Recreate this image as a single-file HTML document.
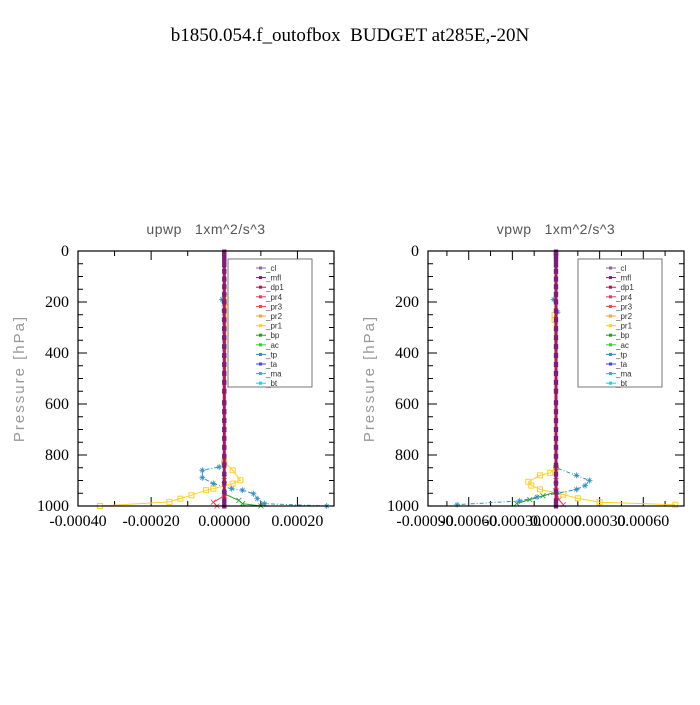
<!DOCTYPE html>
<html><head><meta charset="utf-8"><style>
body{margin:0;background:#fff;}
svg text{font-family:"Liberation Serif",serif;white-space:pre;}
.sans{font-family:"Liberation Sans","DejaVu Sans",sans-serif;}
</style></head><body>
<svg id="chart" width="700" height="700" xmlns="http://www.w3.org/2000/svg" xml:space="preserve">
<rect width="700" height="700" fill="#fff"/>
<text x="350" y="41" font-size="19" text-anchor="middle">b1850.054.f_outofbox  BUDGET at285E,-20N</text>
</svg>
<script>
// ---- data ----
const seriesNames = ["_cl","_mfl","_dp1","_pr4","_pr3","_pr2","_pr1","_bp","_ac","_tp","_ta","_ma","_bt"];
const seriesColors = ["#9060b8","#7a1e7a","#c01048","#e04060","#ff4040","#ffa030","#ffd020","#20a020","#30d030","#3090c0","#4040ff","#40a8e0","#00e0e0"];
const zeroLevels = [4,10,20,35,55,80,110,140,170,200,235,270,305,340,375,410,445,480,515,550,595,630,665,700,735,770,805,840,875,910,945,980,1000];
const leftTitle = "upwp   1xm^2/s^3";
const rightTitle = "vpwp   1xm^2/s^3";
const leftTicks = [-0.0004,-0.0002,0,0.0002];
const leftTickLabels = ["-0.00040","-0.00020","0.00000","0.00020"];
const rightTicks = [-0.0009,-0.0006,-0.0003,0,0.0003,0.0006];
const rightTickLabels = ["-0.00090","-0.00060","-0.00030","0.00000","0.00030","0.00060"];
const yTicks = [0,200,400,600,800,1000];
// left panel series
const L_pr1_p = [180,200,827,860,899,912,932,938,958,971,984,1000];
const L_pr1_v = [0.000004,0.000006,0,0.000023,0.000044,0.000023,-0.00003,-0.00005,-0.00009,-0.00012,-0.00015,-0.00034];
const L_tp_p = [190,830,847,860,889,912,932,938,952,971,991,1000];
const L_tp_v = [-0.000006,0,-0.000014,-0.00006,-0.00006,-0.00003,0.00002,0.00005,0.00008,0.00009,0.00011,0.00028];
const L_bp_p = [900,952,978,991,1000];
const L_bp_v = [0,0,0.00004,0.00005,0.0001];
const L_pr4_p = [960,985,1000];
const L_pr4_v = [0,-0.00003,-0.00002];
// right panel series
const R_pr1_p = [250,270,850,870,880,905,920,935,955,970,985,995];
const R_pr1_v = [-0.00001,-0.00001,0,-0.00004,-0.00011,-0.00019,-0.00017,-0.00011,0.00005,0.00015,0.0003,0.00082];
const R_tp_p = [190,240,850,880,900,920,935,950,965,980,995];
const R_tp_v = [-0.000015,0.00001,0,0.00014,0.00023,0.0002,0.00014,0.00001,-0.00013,-0.00025,-0.00068];
const R_bp_p = [900,945,960,975,990];
const R_bp_v = [0,0,-0.00009,-0.00018,-0.00027];
const R_pr4_p = [940,975,995];
const R_pr4_v = [0,0.00002,0.00005];

const NS="http://www.w3.org/2000/svg";
const svg=document.getElementById('chart');
function mk(tag,attrs,parent){const e=document.createElementNS(NS,tag);for(const k in attrs)e.setAttribute(k,attrs[k]);(parent||svg).appendChild(e);return e;}

function marker(g,x,y,c,kind){
  let m;
  if(kind==="sq"){m=mk('rect',{x:x-2.5,y:y-2.5,width:5,height:5,fill:'none',stroke:c,'stroke-width':1},g);}
  else if(kind==="star"){m=mk('path',{d:`M${x-3} ${y}H${x+3}M${x} ${y-3}V${y+3}M${x-2} ${y-2}L${x+2} ${y+2}M${x-2} ${y+2}L${x+2} ${y-2}`,stroke:c,'stroke-width':0.8},g);}
  else if(kind==="x"){m=mk('path',{d:`M${x-2.5} ${y-2.5}L${x+2.5} ${y+2.5}M${x-2.5} ${y+2.5}L${x+2.5} ${y-2.5}`,stroke:c,'stroke-width':0.8},g);}
  else {m=mk('rect',{x:x-2.2,y:y-2.5,width:4.4,height:5,fill:c},g);}
  
  
}

function panel(cfg){
  const {x0,x1,y0,y1,xmin,xmax,name}=cfg;
  const g=mk('g',{});
  
  
  const xs=v=>x0+(v-xmin)/(xmax-xmin)*(x1-x0);
  const ys=p=>y0+p/1000*(y1-y0);
  const t=mk('text',{x:(x0+x1)/2,y:y0-17,'font-size':14,'text-anchor':'middle',fill:'#555',class:'sans','letter-spacing':'0.5'},g);
  t.textContent=cfg.title;
  
  
  for(let p=0;p<=1000;p+=50){const major=p%200===0;const len=major?9:5;
    mk('line',{x1:x0,x2:x0+len,y1:ys(p),y2:ys(p),stroke:'#000','stroke-width':1},g);
    mk('line',{x1:x1,x2:x1-len,y1:ys(p),y2:ys(p),stroke:'#000','stroke-width':1},g);}
  yTicks.forEach(p=>{const l=mk('text',{x:x0-9,y:ys(p)+5,'font-size':16,'text-anchor':'end'},g);l.textContent=String(p);
    
    });
  const yl=mk('text',{x:x0-54,y:(y0+y1)/2,'font-size':15,'text-anchor':'middle',fill:'#999',class:'sans','letter-spacing':'2',transform:`rotate(-90 ${x0-54} ${(y0+y1)/2})`},g);
  yl.textContent='Pressure [hPa]';
  
  
  const step=(cfg.ticks[1]-cfg.ticks[0])/2;
  for(let v=cfg.ticks[0]-step*2;v<=xmax+1e-9;v+=step){if(v<xmin-1e-9)continue;const major=Math.abs(Math.round(v/step))%2===Math.abs(Math.round(cfg.ticks[0]/step))%2;const len=major?9:5;
    mk('line',{x1:xs(v),x2:xs(v),y1:y1,y2:y1-len,stroke:'#000','stroke-width':1},g);
    mk('line',{x1:xs(v),x2:xs(v),y1:y0,y2:y0+len,stroke:'#000','stroke-width':1},g);}
  cfg.ticks.forEach((v,i)=>{const l=mk('text',{x:xs(v),y:y1+20,'font-size':16,'text-anchor':'middle'},g);l.textContent=cfg.tickLabels[i];
    
    });
  function series(ps,vs,c,kind,dash){
    const pts=ps.map((p,i)=>xs(vs[i]).toFixed(1)+','+ys(p).toFixed(1)).join(' ');
    const pl=mk('polyline',{points:pts,fill:'none',stroke:c,'stroke-width':1,'stroke-dasharray':dash||'none'},g);
    
    
    ps.forEach((p,i)=>marker(g,xs(vs[i]),ys(p),c,kind));
  }
  series(cfg.bp[0],cfg.bp[1],seriesColors[7],'x');
  series(cfg.pr4[0],cfg.pr4[1],seriesColors[3],'x');
  series(cfg.pr1[0],cfg.pr1[1],seriesColors[6],'sq');
  series(cfg.tp[0],cfg.tp[1],seriesColors[9],'star','4,2,1,2');
  const zx=xs(0);
  mk('line',{x1:zx,x2:zx,y1:ys(0),y2:ys(1000),stroke:seriesColors[2],'stroke-width':3},g);
  zeroLevels.forEach(p=>marker(g,zx,ys(p),seriesColors[1],'fill'));
  const fr=mk('rect',{x:x0,y:y0,width:x1-x0,height:y1-y0,fill:'none',stroke:'#000','stroke-width':1.2},g);
  
  
  const lg=mk('g',{},g);
  
  
  const lx=x1-106,ly=y0+8;
  mk('rect',{x:lx,y:ly,width:84,height:128,fill:'#fff',stroke:'#555','stroke-width':0.8},lg);
  seriesNames.forEach((n,i)=>{const yy=ly+9+i*9.6;
    const e=mk('g',{},lg);
    
    
    mk('line',{x1:lx+28,x2:lx+38,y1:yy,y2:yy,stroke:seriesColors[i],'stroke-width':1},e);
    mk('rect',{x:lx+31,y:yy-1.5,width:3,height:3,fill:seriesColors[i]},e);
    const tx=mk('text',{x:lx+38,y:yy+3,'font-size':8,fill:'#333',class:'sans'},e);tx.textContent=n;});
}
panel({name:'upwp-panel',x0:78,x1:334,y0:251,y1:506,xmin:-0.0004,xmax:0.0003,title:leftTitle,ticks:leftTicks,tickLabels:leftTickLabels,
  pr1:[L_pr1_p,L_pr1_v],tp:[L_tp_p,L_tp_v],bp:[L_bp_p,L_bp_v],pr4:[L_pr4_p,L_pr4_v]});
panel({name:'vpwp-panel',x0:428,x1:684,y0:251,y1:506,xmin:-0.00088,xmax:0.00088,title:rightTitle,ticks:rightTicks,tickLabels:rightTickLabels,
  pr1:[R_pr1_p,R_pr1_v],tp:[R_tp_p,R_tp_v],bp:[R_bp_p,R_bp_v],pr4:[R_pr4_p,R_pr4_v]});
</script>
</body></html>
